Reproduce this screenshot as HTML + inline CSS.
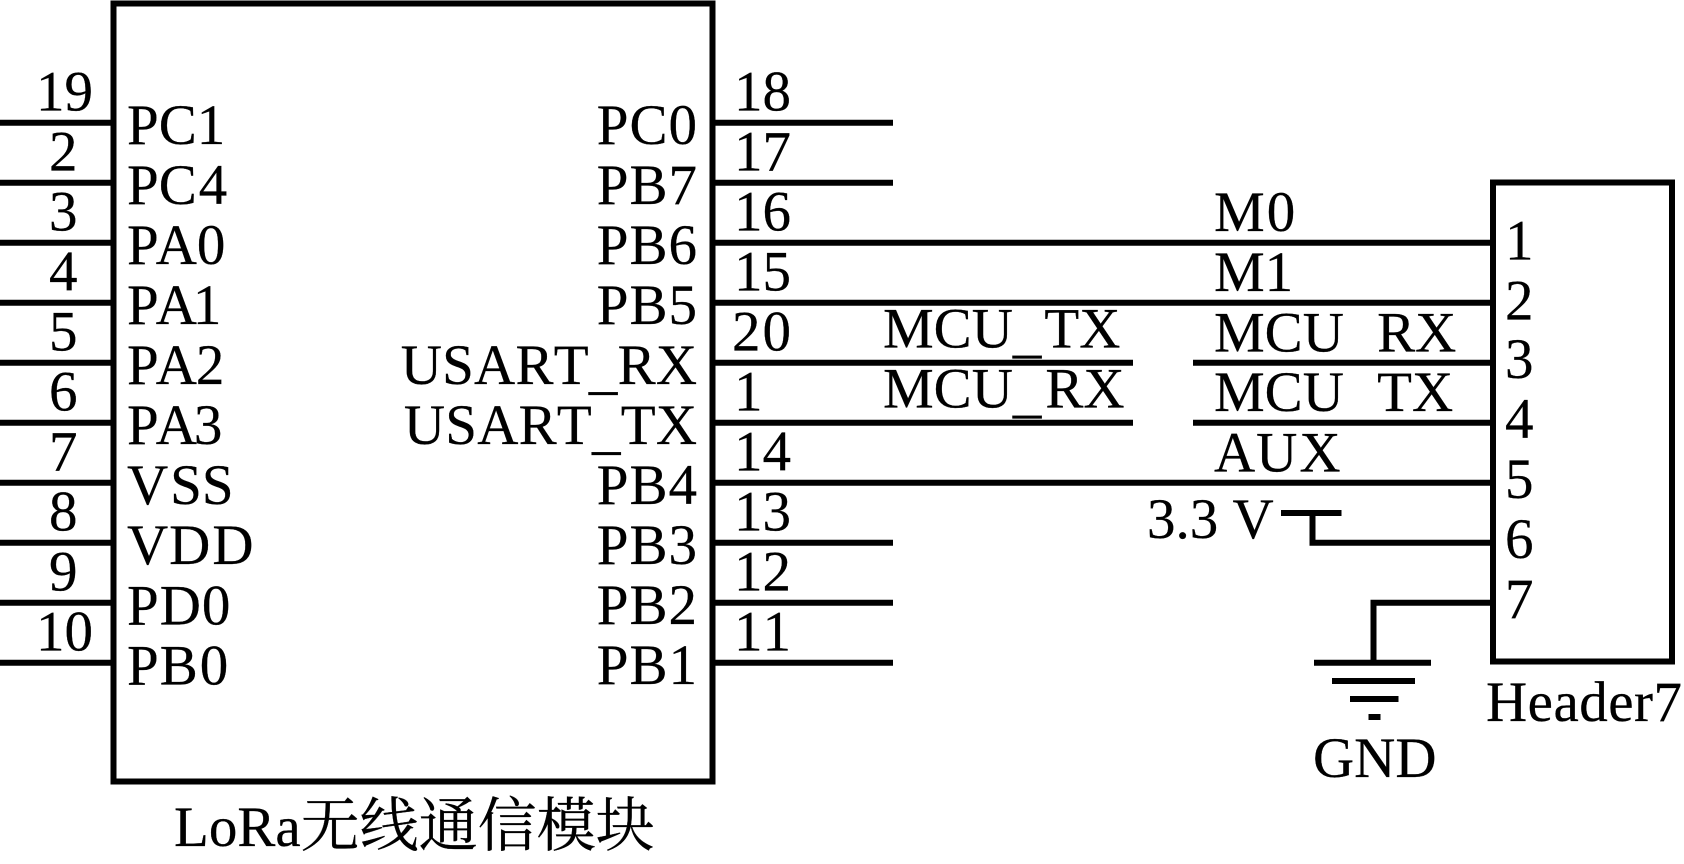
<!DOCTYPE html>
<html><head><meta charset="utf-8"><style>
html,body{margin:0;padding:0;background:#fff}
svg{display:block}
text{font-family:"Liberation Serif","Noto Serif CJK SC",serif;font-size:57px;fill:#000;stroke:#000;stroke-width:.25px;font-kerning:none}
</style></head><body>
<svg width="1684" height="864" viewBox="0 0 1684 864" xmlns="http://www.w3.org/2000/svg">
<rect width="1684" height="864" fill="#fff"/>
<g fill="none" stroke="#000" stroke-width="6">
<rect x="113.5" y="3.5" width="599" height="778"/>
<rect x="1493" y="182.5" width="179" height="479"/>
<path d="M0 122.7H114M0 182.7H114M0 242.7H114M0 302.7H114M0 362.7H114M0 422.7H114M0 482.7H114M0 542.7H114M0 602.7H114M0 662.7H114"/>
<path d="M713 122.7H893M713 182.7H893M713 242.7H1493M713 302.7H1493M713 362.7H1133M1193 362.7H1493M713 422.7H1133M1193 422.7H1493M713 482.7H1493M713 542.7H893M713 602.7H893M713 662.7H893"/>
<path d="M1281 513H1341.5M1312.5 513V542.7H1493"/>
<path d="M1493 602.7H1373.5V663M1314 662.7H1431M1332 681H1415M1350 699H1398.5M1368.5 717H1380.5"/>
</g>
<g>
<text x="36" y="110.7">19</text><text x="49" y="170.7">2</text><text x="49" y="230.7">3</text><text x="49" y="290.7">4</text><text x="49" y="350.7">5</text><text x="49" y="410.7">6</text><text x="49" y="470.7">7</text><text x="49" y="530.7">8</text><text x="49" y="590.7">9</text><text x="36" y="650.7">10</text>
<text x="127" y="144">PC1</text>
<text x="127" y="204">PC<tspan dx="2">4</tspan></text>
<text x="127" y="264">P<tspan dx="-3">A0</tspan></text>
<text x="127" y="324">P<tspan dx="-3">A</tspan><tspan dx="-4">1</tspan></text>
<text x="127" y="384">P<tspan dx="-3">A</tspan><tspan dx="-1">2</tspan></text>
<text x="127" y="444">P<tspan dx="-3">A</tspan><tspan dx="-3">3</tspan></text>
<text x="127" y="504">V<tspan dx="2">SS</tspan></text>
<text x="127" y="564">V<tspan dx="1">D</tspan><tspan dx="2">D</tspan></text>
<text x="127" y="624.5">P<tspan dx="1">D</tspan><tspan dx="1">0</tspan></text>
<text x="127" y="684.5">P<tspan dx="1">B</tspan><tspan dx="2">0</tspan></text>
</g>
<g text-anchor="end" letter-spacing="1">
<text x="698" y="144">PC0</text><text x="698" y="204">PB7</text><text x="698" y="264">PB6</text><text x="698" y="324">PB5</text><text x="698" y="504">PB4</text><text x="698" y="564">PB3</text><text x="698" y="624">PB2</text><text x="698" y="684">PB1</text>
</g>
<g text-anchor="end" letter-spacing=".25">
<text x="697.25" y="384">USART<tspan dy="3.5">_</tspan><tspan dy="-3.5">RX</tspan></text>
<text x="697.25" y="444">USART<tspan dy="3.5">_</tspan><tspan dy="-3.5">TX</tspan></text>
</g>
<g>
<text x="734" y="110.7">18</text><text x="734" y="170.7">17</text><text x="734" y="230.7">16</text><text x="734" y="290.7">15</text><text x="732" y="350.7" letter-spacing="2">20</text><text x="734" y="410.7">1</text><text x="734" y="470.7">14</text><text x="734" y="530.7">13</text><text x="734" y="590.7">12</text><text x="734" y="650.7">11</text>
<text x="883" y="347.5">MCU<tspan dy="3.5">_</tspan><tspan dy="-3.5" dx="3">TX</tspan></text>
<text x="883" y="407.5">MCU<tspan dy="3.5">_</tspan><tspan dy="-3.5" dx="4">RX</tspan></text>
<text x="1214" y="231">M<tspan dx="2">0</tspan></text><text x="1214" y="291">M1</text>
<text x="1214" y="351.5">MCU <tspan dx="19">RX</tspan></text>
<text x="1214" y="411">MCU <tspan dx="19">TX</tspan></text>
<text x="1214" y="471.5">A<tspan dx="1">U</tspan><tspan dx="2">X</tspan></text>
<text x="1147" y="538">3.3 V</text>
<text x="1505" y="259.5">1</text><text x="1505" y="319.5">2</text><text x="1505" y="378">3</text><text x="1505" y="438">4</text><text x="1505" y="498">5</text><text x="1505" y="558">6</text><text x="1505" y="618">7</text>
<text x="1486" y="721" letter-spacing=".5">Header7</text>
<text x="1313" y="777">GND</text>
<text x="174" y="846">LoRa<tspan font-size="59">无线通信模块</tspan></text>
</g>
</svg>
</body></html>
